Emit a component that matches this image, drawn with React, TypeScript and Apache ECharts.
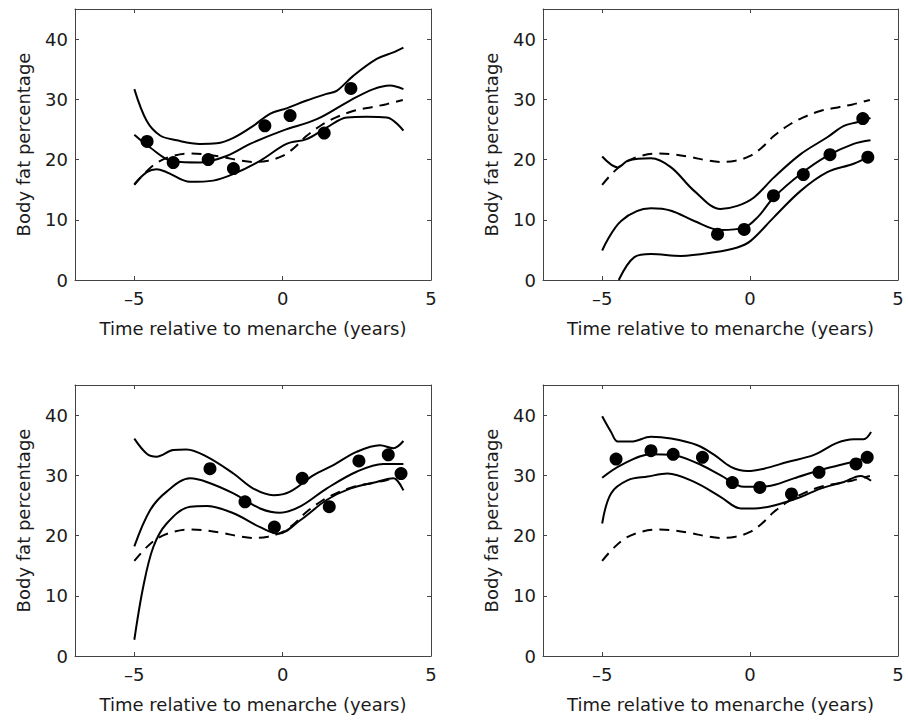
import React, { useEffect, useRef } from "react";
import * as echarts from "echarts";

// Population mean curve (dashed), same in every panel
const popMean: number[][] = [
  [-5, 15.8], [-4.6, 18.0], [-4.2, 19.6], [-3.7, 20.6], [-3.2, 21.0], [-2.7, 20.9],
  [-2.0, 20.4], [-1.5, 19.9], [-1.0, 19.6], [-0.5, 19.8], [0, 20.6], [0.4, 22.0],
  [0.8, 23.9], [1.3, 25.7], [1.8, 27.0], [2.4, 28.1], [3.0, 28.7], [3.5, 29.2], [4.05, 29.9],
];

// Panel 1 (top-left)
const p1Upper: number[][] = [
  [-5, 31.7], [-4.58, 26.4], [-4.13, 24.0], [-3.57, 23.2], [-2.79, 22.6], [-2.22, 22.7],
  [-1.66, 23.6], [-0.99, 25.6], [-0.43, 27.6], [0.13, 28.5], [0.81, 29.8], [1.48, 30.9],
  [1.82, 31.4], [2.38, 33.9], [3.17, 36.7], [3.73, 37.8], [4.07, 38.6],
];
const p1Mid: number[][] = [
  [-5, 24.1], [-4.47, 22.0], [-3.69, 19.7], [-2.79, 19.5], [-1.89, 20.6], [-1.1, 22.6],
  [0, 24.8], [1.15, 26.7], [2.27, 29.8], [3.06, 31.7], [3.62, 32.3], [4.07, 31.7],
];
const p1Lower: number[][] = [
  [-5, 15.9], [-4.58, 17.9], [-4.25, 18.4], [-3.91, 17.9], [-3.12, 16.3], [-2.34, 16.5],
  [-1.66, 17.6], [-0.76, 19.8], [0.13, 22.6], [0.81, 23.4], [1.48, 25.3], [2.16, 27.0],
  [2.83, 27.1], [3.51, 27.0], [4.07, 24.8],
];
const p1Obs: number[][] = [
  [-4.57, 23.0], [-3.69, 19.5], [-2.51, 20.0], [-1.66, 18.5], [-0.6, 25.6],
  [0.25, 27.3], [1.4, 24.4], [2.3, 31.8],
];

// Panel 2 (top-right)
const p2Upper: number[][] = [
  [-5, 20.5], [-4.47, 18.7], [-4.13, 19.8], [-3.35, 20.2], [-2.67, 18.7], [-1.89, 14.8],
  [-1, 11.8], [-0.43, 12.3], [0.13, 13.7], [0.8, 17.0], [1.71, 20.9], [2.61, 23.7],
  [3.17, 25.6], [3.62, 26.2], [4.07, 26.9],
];
const p2Mid: number[][] = [
  [-5, 4.9], [-4.36, 9.8], [-3.35, 11.9], [-2.67, 11.5], [-1.89, 9.8], [-1, 8.3],
  [-0.2, 8.7], [0.25, 10.4], [0.8, 13.7], [1.71, 17.6], [2.61, 20.6], [3.5, 22.6], [4.07, 23.2],
];
const p2Lower: number[][] = [
  [-4.44, 0], [-3.91, 3.8], [-3.35, 4.3], [-2.34, 4.0], [-1.21, 4.6], [-0.43, 5.4],
  [0.02, 6.5], [0.8, 10.4], [1.71, 14.8], [2.61, 17.9], [3.5, 19.3], [4.07, 20.6],
];
const p2Obs: number[][] = [
  [-1.1, 7.6], [-0.2, 8.4], [0.79, 14.0], [1.8, 17.5], [2.7, 20.8], [3.81, 26.8], [3.98, 20.4],
];

// Panel 3 (bottom-left)
const p3Upper: number[][] = [
  [-5, 36.1], [-4.58, 33.6], [-4.25, 33.1], [-3.69, 34.2], [-3.24, 34.3], [-2.56, 33.1],
  [-1.66, 30.3], [-0.99, 27.8], [-0.31, 26.7], [0.25, 27.3], [1.03, 30.0], [1.71, 31.7],
  [2.49, 33.9], [3.28, 35.0], [3.73, 34.5], [4.07, 35.7],
];
const p3Mid: number[][] = [
  [-5, 18.2], [-4.47, 24.2], [-3.91, 27.3], [-3.12, 29.5], [-2.56, 28.9], [-1.66, 27.0],
  [-0.76, 24.5], [-0.09, 23.8], [0.58, 24.8], [1.48, 27.8], [2.49, 30.6], [3.39, 31.9], [4.07, 31.9],
];
const p3Lower: number[][] = [
  [-5, 2.7], [-4.7, 11.5], [-4.36, 18.1], [-3.91, 22.0], [-3.12, 24.8], [-2.56, 24.9],
  [-1.66, 23.7], [-0.76, 21.4], [-0.15, 20.3], [0.58, 22.5], [1.48, 25.9], [2.27, 27.8],
  [3.17, 28.9], [3.73, 29.5], [4.07, 27.5],
];
const p3Obs: number[][] = [
  [-2.45, 31.1], [-1.27, 25.6], [-0.28, 21.4], [0.66, 29.5], [1.57, 24.8],
  [2.57, 32.4], [3.56, 33.4], [3.99, 30.3],
];

// Panel 4 (bottom-right)
const p4Upper: number[][] = [
  [-5, 39.8], [-4.7, 37.2], [-4.47, 35.6], [-4.02, 35.6], [-3.35, 36.4], [-2.67, 36.1],
  [-1.78, 35.0], [-1.21, 33.4], [-0.65, 31.4], [-0.09, 30.7], [0.47, 31.1], [1.26, 32.2],
  [2.16, 33.4], [2.94, 35.4], [3.51, 36.0], [3.84, 36.0], [4.09, 37.2],
];
const p4Mid: number[][] = [
  [-5, 29.6], [-4.36, 31.7], [-3.35, 33.5], [-2.67, 33.4], [-1.78, 32.0], [-0.99, 30.0],
  [-0.2, 28.1], [0.58, 28.2], [1.48, 29.5], [2.38, 30.9], [3.28, 32.0], [4.07, 33.1],
];
const p4Lower: number[][] = [
  [-5, 22.0], [-4.7, 27.0], [-4.13, 29.2], [-3.46, 29.8], [-2.79, 30.3], [-1.89, 28.9],
  [-0.99, 26.4], [-0.31, 24.5], [0.13, 24.5], [0.81, 25.0], [1.71, 26.4], [2.38, 27.8],
  [3.17, 28.9], [3.73, 29.9], [4.09, 29.1],
];
const p4Obs: number[][] = [
  [-4.53, 32.7], [-3.35, 34.1], [-2.6, 33.5], [-1.61, 33.0], [-0.6, 28.8],
  [0.33, 28.0], [1.4, 26.9], [2.33, 30.5], [3.58, 31.9], [3.96, 33.0],
];

const xTicks = [-5, 0, 5];
const yTicks = [0, 10, 20, 30, 40];
const xName = "Time relative to menarche (years)";
const yName = "Body fat percentage";

const panels = [
  { upper: p1Upper, mid: p1Mid, lower: p1Lower, obs: p1Obs },
  { upper: p2Upper, mid: p2Mid, lower: p2Lower, obs: p2Obs },
  { upper: p3Upper, mid: p3Mid, lower: p3Lower, obs: p3Obs },
  { upper: p4Upper, mid: p4Mid, lower: p4Lower, obs: p4Obs },
];

const grids = [
  { left: 75, top: 9, width: 356, height: 271 },
  { left: 543, top: 9, width: 355, height: 271 },
  { left: 75, top: 385, width: 356, height: 271 },
  { left: 543, top: 385, width: 355, height: 271 },
];

const FONT = "DejaVu Sans, Verdana, sans-serif";
const FS = 18;
const TXT = "#1a1a1a";
const FRAME = "#444";

export default function App() {
  const ref = useRef<HTMLDivElement>(null);
  useEffect(() => {
    if (!ref.current) return;
    const chart = echarts.init(ref.current, undefined, { renderer: "svg" });
    const xAxes: any[] = [];
    const yAxes: any[] = [];
    const series: any[] = [];
    grids.forEach((g, i) => {
      const base = {
        type: "value",
        gridIndex: i,
        axisLine: { show: true, onZero: false, lineStyle: { color: FRAME, width: 1 } },
        splitLine: { show: false },
        axisTick: { show: true, inside: true, length: 4, lineStyle: { color: FRAME } },
      };
      xAxes.push({
        ...base,
        position: "bottom",
        min: -7,
        max: 5,
        axisTick: { ...base.axisTick, customValues: xTicks },
        axisLabel: {
          customValues: xTicks,
          color: TXT,
          fontSize: FS,
          fontFamily: FONT,
          margin: 9,
          formatter: (v: number) => (v < 0 ? "\u2013" + Math.abs(v) : String(v)),
        },
        name: xName,
        nameLocation: "middle",
        nameGap: 39,
        nameTextStyle: { color: TXT, fontSize: FS, fontFamily: FONT },
      });
      xAxes.push({
        ...base,
        position: "top",
        min: -7,
        max: 5,
        axisTick: { ...base.axisTick, customValues: xTicks },
        axisLabel: { show: false },
      });
      yAxes.push({
        ...base,
        position: "left",
        min: 0,
        max: 45,
        axisTick: { ...base.axisTick, customValues: yTicks },
        axisLabel: {
          customValues: yTicks,
          color: TXT,
          fontSize: FS,
          fontFamily: FONT,
          margin: 7,
        },
        name: yName,
        nameLocation: "middle",
        nameGap: 43,
        nameTextStyle: { color: TXT, fontSize: FS, fontFamily: FONT },
      });
      yAxes.push({
        ...base,
        position: "right",
        min: 0,
        max: 45,
        axisTick: { ...base.axisTick, customValues: yTicks },
        axisLabel: { show: false },
      });
      const p = panels[i];
      const xi = i * 2;
      const yi = i * 2;
      const solid = { color: "#000", width: 2 };
      const line = (data: number[][], dashed = false) => ({
        type: "line",
        xAxisIndex: xi,
        yAxisIndex: yi,
        data,
        smooth: 0.35,
        showSymbol: false,
        symbol: "none",
        clip: true,
        lineStyle: dashed ? { ...solid, type: [10, 7] } : solid,
        silent: true,
      });
      series.push(line(popMean, true));
      series.push(line(p.upper));
      series.push(line(p.mid));
      series.push(line(p.lower));
      series.push({
        type: "scatter",
        xAxisIndex: xi,
        yAxisIndex: yi,
        data: p.obs,
        symbol: "circle",
        symbolSize: 13,
        itemStyle: { color: "#000", opacity: 1 },
        silent: true,
      });
    });
    chart.setOption({
      animation: false,
      backgroundColor: "#fff",
      grid: grids.map((g) => ({ ...g, show: false, containLabel: false })),
      xAxis: xAxes,
      yAxis: yAxes,
      series,
    });
    return () => chart.dispose();
  }, []);
  return (
    <div
      ref={ref}
      style={{ position: "absolute", left: 0, top: 0, width: 908, height: 721 }}
    />
  );
}
